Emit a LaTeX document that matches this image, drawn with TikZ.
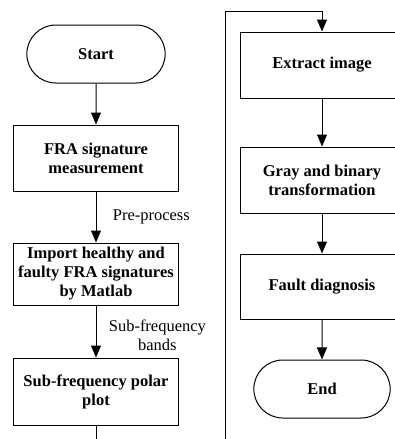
\documentclass[tikz,border=0pt]{standalone}
\usepackage{fontspec}
\setmainfont{Liberation Serif}
\usetikzlibrary{arrows.meta,positioning,shapes.misc}

\begin{document}
\begin{tikzpicture}[x=1pt, y=-1pt, node distance=40pt,
    every node/.style={font=\fontsize{16.5}{19}\selectfont},
    box/.style={draw, rectangle, align=center, font=\fontsize{16.5}{19}\selectfont\bfseries, minimum width=165pt, minimum height=66pt, line width=1pt},
    term/.style={draw, rounded rectangle, font=\fontsize{16.5}{19}\selectfont\bfseries, minimum width=145pt, minimum height=58pt, line width=1pt},
    flow/.style={-{Triangle[length=12pt, width=10pt]}, line width=1pt}]
    \useasboundingbox (0,0) rectangle (395,439);
    \clip (0,0) rectangle (395,439);
    % left column
    \node[term] (start) at (96,54) {Start};
    \node[box] (fra) [below=41pt of start] {FRA signature\\ measurement};
    \node[box, minimum height=62pt] (import) [below=51pt of fra] {Import healthy and\\ faulty FRA signatures\\ by Matlab};
    \node[box, minimum height=67pt] (polar) [below=52pt of import] {Sub-frequency polar\\ plot};
    \coordinate (cutleft) at (96,439);
    % right column
    \coordinate (cutright) at (225,439);
    \coordinate (turn) at (225,11);
    \node[box, minimum width=164pt] (extract) at (322,65) {Extract image};
    \node[box, minimum width=164pt] (gray) [below=48pt of extract] {Gray and binary\\ transformation};
    \node[box, minimum width=164pt, minimum height=65pt] (fault) [below=40pt of gray] {Fault diagnosis};
    \node[term, minimum width=143pt] (end) [below=40pt of fault] {End};
    \draw[flow] (start) -- (fra);
    \draw[flow] (fra) -- node[midway, anchor=west, xshift=13pt] {Pre-process} (import);
    \draw[flow] (import) -- node[midway, anchor=west, align=center, xshift=9pt, yshift=-4pt] {Sub-frequency\\ bands} (polar);
    \draw[line width=1pt] (polar) -- (cutleft);
    \draw[flow] (cutright) -- (turn) -| (extract);
    \draw[flow] (extract) -- (gray);
    \draw[flow] (gray) -- (fault);
    \draw[flow] (fault) -- (end);
\end{tikzpicture}
\end{document}
